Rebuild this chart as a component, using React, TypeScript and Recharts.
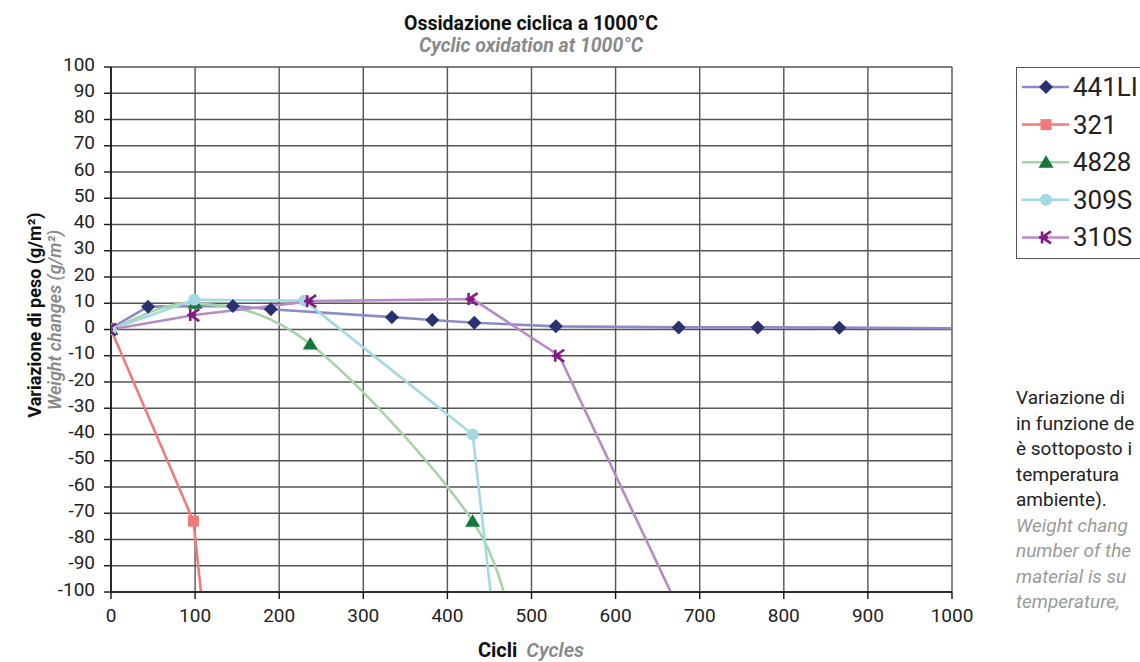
import React from 'react'
import { LineChart, Line, XAxis, YAxis, CartesianGrid, Legend, Label } from 'recharts'

// cycles (x) and weight change in g/m2 (y)
// the last point of each series lies outside the axes and is clipped, like in the original
const cycles441 = [0, 44, 145, 190, 334, 382, 432, 529, 675, 769, 866, 1060]
const weight441 = [0.5, 8.7, 9, 7.7, 4.7, 3.6, 2.6, 1.2, 0.8, 0.8, 0.7, 0.4]

const cycles321 = [0, 98, 112]
const weight321 = [0, -73, -115]

const cycles4828 = [0, 100, 237, 430, 485]
const weight4828 = [0, 10, -5.5, -73, -125]

const cycles309 = [0, 99, 230, 430, 462]
const weight309 = [0, 11.3, 11, -40, -130]

const cycles310 = [0, 99, 238, 430, 533, 695]
const weight310 = [0, 5.5, 10.8, 11.6, -10, -120]

const xTicks = [0, 100, 200, 300, 400, 500, 600, 700, 800, 900, 1000]
const yTicks = [100, 90, 80, 70, 60, 50, 40, 30, 20, 10, 0, -10, -20, -30, -40, -50, -60, -70, -80, -90, -100]

// side caption, only the part that fits on the page
const noteIt = ['Variazione di', 'in funzione de', 'è sottoposto i', 'temperatura', 'ambiente).']
const noteEn = ['Weight chang', 'number of the', 'material is su', 'temperature,']

const toPoints = (xs: number[], ys: number[]) => xs.map((x, i) => ({ x, y: ys[i] }))

const FONT = 'Roboto, "DejaVu Sans", sans-serif'

// Excel style smoothed line (uniform catmull-rom through the points)
function smoothCurve(context: any) {
  let pts: number[][] = []
  return {
    areaStart() {},
    areaEnd() {},
    lineStart() {
      pts = []
    },
    point(x: number, y: number) {
      pts.push([+x, +y])
    },
    lineEnd() {
      if (!pts.length) return
      context.moveTo(pts[0][0], pts[0][1])
      for (let i = 0; i < pts.length - 1; i++) {
        const p0 = pts[Math.max(i - 1, 0)]
        const p1 = pts[i]
        const p2 = pts[i + 1]
        const p3 = pts[Math.min(i + 2, pts.length - 1)]
        context.bezierCurveTo(
          p1[0] + (p2[0] - p0[0]) / 6,
          p1[1] + (p2[1] - p0[1]) / 6,
          p2[0] - (p3[0] - p1[0]) / 6,
          p2[1] - (p3[1] - p1[1]) / 6,
          p2[0],
          p2[1]
        )
      }
    },
  }
}

const series = [
  { name: '441LI', color: '#8a8cc4', marker: '#283270', shape: 'diamond', curve: 'linear', data: toPoints(cycles441, weight441) },
  { name: '321', color: '#f07a7a', marker: '#f07a7a', shape: 'square', curve: 'linear', data: toPoints(cycles321, weight321) },
  { name: '4828', color: '#a6d4a6', marker: '#14783a', shape: 'triangle', curve: smoothCurve, data: toPoints(cycles4828, weight4828) },
  { name: '309S', color: '#a4d8e2', marker: '#a4d8e2', shape: 'circle', curve: 'linear', data: toPoints(cycles309, weight309) },
  { name: '310S', color: '#b88ac8', marker: '#821c82', shape: 'star', curve: 'linear', data: toPoints(cycles310, weight310) },
]

function Marker({ shape, cx, cy, color }: { shape: string; cx: number; cy: number; color: string }) {
  if (shape === 'diamond')
    return <path d={`M${cx},${cy - 7}L${cx + 7},${cy}L${cx},${cy + 7}L${cx - 7},${cy}Z`} fill={color} />
  if (shape === 'square') return <rect x={cx - 5.5} y={cy - 5.5} width={11} height={11} fill={color} />
  if (shape === 'triangle')
    return <path d={`M${cx},${cy - 7}L${cx + 7.5},${cy + 5.5}L${cx - 7.5},${cy + 5.5}Z`} fill={color} />
  if (shape === 'circle') return <circle cx={cx} cy={cy} r={6} fill={color} />
  return (
    <path
      d={`M${cx - 4},${cy - 6}V${cy + 6}M${cx - 4},${cy}L${cx + 5},${cy - 6}M${cx - 4},${cy}L${cx + 5},${cy + 6}M${cx - 7},${cy}H${cx + 2}`}
      stroke={color}
      strokeWidth={2.6}
      fill="none"
    />
  )
}

function XTick({ x, y, payload }: any) {
  return (
    <text x={x} y={y} dy={14} textAnchor="middle" fontSize={19} fontFamily={FONT} fill="#222">
      {payload.value}
    </text>
  )
}

function YTick({ x, y, payload }: any) {
  return (
    <text x={x} y={y} dy={3.5} textAnchor="end" fontSize={19} fontFamily={FONT} fill="#222">
      {payload.value}
    </text>
  )
}

function LegendBox() {
  return (
    <div style={{ width: 140, height: 192, border: '1px solid #555', boxSizing: 'border-box', background: '#fff' }}>
      <svg width={140} height={190}>
        {series.map((s, i) => {
          const cy = 19 + i * 37.6
          return (
            <g key={s.name}>
              <line x1={5} x2={52} y1={cy} y2={cy} stroke={s.color} strokeWidth={2.5} />
              <Marker shape={s.shape} cx={29} cy={cy} color={s.marker} />
              <text x={56} y={cy + 9} fontSize={26} fontFamily={FONT} fill="#222">
                {s.name}
              </text>
            </g>
          )
        })}
      </svg>
    </div>
  )
}

export default function App() {
  return (
    <div style={{ position: 'absolute', left: 0, top: 0, width: 1140, height: 662, overflow: 'hidden', background: '#fff', fontFamily: FONT }}>
      <div style={{ position: 'absolute', left: 281, width: 500, top: 12, textAlign: 'center', fontSize: 19.5, fontWeight: 700, color: '#111' }}>
        Ossidazione ciclica a 1000°C
      </div>
      <div style={{ position: 'absolute', left: 281, width: 500, top: 34, textAlign: 'center', fontSize: 19.5, fontWeight: 700, fontStyle: 'italic', color: '#8a8a8a' }}>
        Cyclic oxidation at 1000°C
      </div>

      <LineChart width={1140} height={662} margin={{ top: 67, right: 188, bottom: 30, left: 51 }}>
        <CartesianGrid stroke="#555" strokeWidth={1.4} horizontalValues={yTicks} verticalValues={xTicks} />
        <XAxis
          type="number"
          dataKey="x"
          domain={[0, 1000]}
          ticks={xTicks}
          allowDataOverflow
          height={40}
          interval={0}
          tick={<XTick />}
          tickSize={7}
          tickMargin={9}
          axisLine={{ stroke: '#111', strokeWidth: 1.6 }}
          tickLine={{ stroke: '#111', strokeWidth: 1.4 }}
        >
          <Label
            content={() => (
              <text x={531} y={657} textAnchor="middle" fontSize={20} fontFamily={FONT}>
                <tspan fontWeight={700} fill="#111">Cicli</tspan>
                <tspan dx={9} fontWeight={600} fontStyle="italic" fill="#8a8a8a">Cycles</tspan>
              </text>
            )}
          />
        </XAxis>
        <YAxis
          type="number"
          domain={[-100, 100]}
          ticks={yTicks}
          allowDataOverflow
          width={60}
          interval={0}
          tick={<YTick />}
          tickSize={7}
          tickMargin={9}
          axisLine={{ stroke: '#111', strokeWidth: 1.6 }}
          tickLine={{ stroke: '#111', strokeWidth: 1.4 }}
        >
          <Label
            content={() => (
              <g fontFamily={FONT} fontSize={18}>
                <text x={41} y={315} transform="rotate(-90 41 315)" textAnchor="middle" fontWeight={700} fill="#111">
                  Variazione di peso (g/m²)
                </text>
                <text x={61} y={320} transform="rotate(-90 61 320)" textAnchor="middle" fontWeight={600} fontStyle="italic" fill="#8a8a8a">
                  Weight changes (g/m²)
                </text>
              </g>
            )}
          />
        </YAxis>
        {series.map((s) => (
          <Line
            key={s.name}
            name={s.name}
            data={s.data}
            dataKey="y"
            type={s.curve as any}
            stroke={s.color}
            strokeWidth={2.6}
            dot={(p: any) => <Marker key={`${s.name}-${p.index}`} shape={s.shape} cx={p.cx} cy={p.cy} color={s.marker} />}
            activeDot={false}
            isAnimationActive={false}
          />
        ))}
        <Legend
          layout="vertical"
          align="center"
          verticalAlign="middle"
          content={() => <LegendBox />}
          wrapperStyle={{ left: 1016, top: 67, width: 140 }}
        />
      </LineChart>

      <div style={{ position: 'absolute', left: 1016, top: 385, fontSize: 19, lineHeight: '25.5px', whiteSpace: 'nowrap' }}>
        {noteIt.map((t) => (
          <div key={t} style={{ color: '#222' }}>{t}</div>
        ))}
        {noteEn.map((t) => (
          <div key={t} style={{ color: '#9a9a9a', fontStyle: 'italic' }}>{t}</div>
        ))}
      </div>
    </div>
  )
}
